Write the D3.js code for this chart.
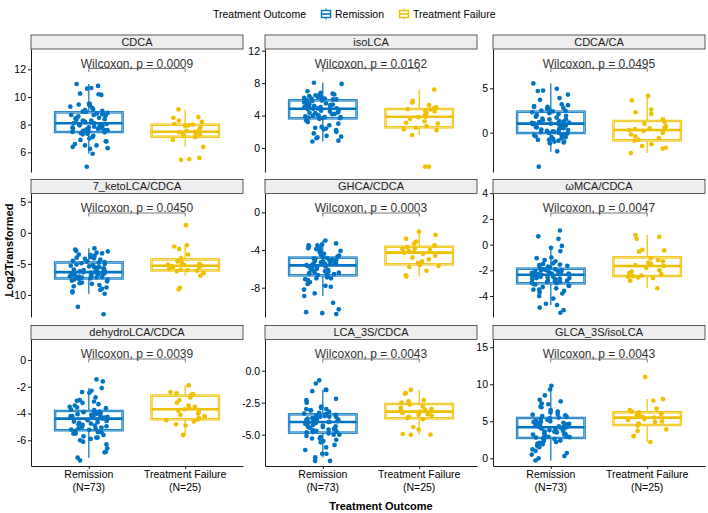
<!DOCTYPE html>
<html><head><meta charset="utf-8">
<script src="https://cdn.jsdelivr.net/npm/d3@7"></script>
<style>
body{margin:0;background:#fff}
svg{display:block}
text{font-family:"Liberation Sans",Arial,Helvetica,sans-serif}
</style>
</head><body>
<svg id="c" width="708" height="513"></svg>
<script>
// ---------------- DATA ----------------
const panelNames = ["CDCA","isoLCA","CDCA/CA","7_ketoLCA/CDCA","GHCA/CDCA","\u03c9MCA/CDCA","dehydroLCA/CDCA","LCA_3S/CDCA","GLCA_3S/isoLCA"];
const groups = ["Remission","Treatment Failure"];
const groupCounts = ["(N=73)","(N=25)"];
const pValues = ["0.0009","0.0162","0.0495","0.0450","0.0003","0.0047","0.0039","0.0043","0.0043"];
const yTicks = [[6,8,10,12],[0,4,8,12],[0,5],[-10,-5,0,5],[-8,-4,0],[-4,-2,0,2,4],[-6,-4,-2,0],[-5,-2.5,0],[0,5,10,15]];
const yTickLabels = [["6","8","10","12"],["0","4","8","12"],["0","5"],["-10","-5","0","5"],["-8","-4","0"],["-4","-2","0","2","4"],["-6","-4","-2","0"],["-5.0","-2.5","0.0"],["0","5","10","15"]];
const yDomains = [[4.58,13.47],[-2.96,12.21],[-4.43,9.43],[-13.54,6.32],[-11.11,2.0],[-5.63,3.98],[-7.92,1.53],[-7.45,2.44],[-1.04,16.05]];

// box statistics
const remQ1  = [7.47,3.66,-0.04,-7.34,-6.69,-3.01,-5.25,-4.84,2.75];
const remMed = [8.10,4.85,1.02,-6.32,-5.63,-2.34,-4.38,-4.01,4.19];
const remQ3  = [8.89,5.88,2.37,-4.77,-4.81,-1.87,-3.81,-3.41,5.45];
const remLo  = [5.9,0.8,-2.14,-9.8,-8.88,-4.7,-7.3,-6.77,-0.3];
const remHi  = [10.94,8.05,5.55,-2.5,-3.0,-0.26,-2.1,-1.5,9.3];
const tfQ1   = [7.13,2.55,-0.86,-6.05,-5.52,-2.44,-4.43,-3.72,4.50];
const tfMed  = [7.49,3.86,0.30,-5.30,-4.28,-1.66,-3.68,-3.20,5.50];
const tfQ3   = [8.0,4.81,1.32,-4.28,-3.65,-0.99,-2.66,-2.60,6.22];
const tfLo   = [6.4,1.6,-2.3,-6.9,-6.8,-3.4,-5.6,-5.02,2.2];
const tfHi   = [9.1,7.2,4.15,-2.0,-2.05,0.75,-1.9,-1.5,8.0];

// individual observations
const remCDCA = [10.94,10.8,10.65,10.6,10.25,10.15,10.2,9.5,9.5,9.4,9.3,9.2,9.1,9.05,9.0,8.95,8.92,9.45,
8.85,8.8,8.8,8.75,8.7,8.7,8.65,8.6,8.5,8.45,8.4,8.35,8.3,8.3,8.25,8.2,8.15,8.12,8.10,
8.05,8.0,7.95,7.9,7.9,7.85,7.8,7.8,7.75,7.7,7.7,7.65,7.6,7.6,7.55,7.55,7.5,7.48,
7.45,7.4,7.3,7.2,7.1,7.0,6.9,6.8,6.8,6.6,6.5,6.4,6.3,6.25,6.5,5.9,4.96,7.35];
const tfCDCA = [9.1,8.55,8.5,8.3,8.2,8.05,8.0,7.95,7.9,7.8,7.6,7.55,7.49,7.45,7.4,7.35,7.3,7.2,7.15,7.1,6.9,6.4,5.6,5.5,5.45];

const remIsoLCA = [8.05,7.9,7.0,6.8,6.6,6.5,6.5,6.4,6.3,6.3,6.2,6.1,6.1,6.0,6.0,5.95,5.9,6.7,
5.85,5.8,5.7,5.6,5.6,5.5,5.4,5.35,5.3,5.2,5.2,5.1,5.05,5.0,4.95,4.9,4.9,4.87,4.85,
4.8,4.7,4.6,4.5,4.4,4.35,4.3,4.2,4.15,4.1,4.0,3.95,3.9,3.8,3.8,3.75,3.7,3.68,
3.6,3.4,3.2,3.0,2.8,2.6,2.5,2.4,2.3,2.2,2.0,1.8,1.5,1.4,1.3,1.2,0.9,0.8];
const tfIsoLCA = [7.2,5.8,5.6,5.3,5.0,4.9,4.8,4.75,4.6,4.5,4.3,4.1,3.86,3.8,3.6,3.3,3.1,3.0,2.7,2.5,2.3,2.2,1.6,-2.3,-2.3];

const remCdcaCa = [5.55,4.95,4.75,4.7,4.3,3.9,3.7,3.2,3.1,3.0,2.9,2.9,2.8,2.7,2.6,2.5,2.45,2.4,
2.3,2.2,2.1,2.0,1.9,1.8,1.7,1.6,1.5,1.5,1.4,1.3,1.25,1.2,1.15,1.1,1.05,1.03,1.02,
0.95,0.9,0.85,0.8,0.7,0.6,0.55,0.5,0.4,0.35,0.3,0.2,0.15,0.1,0.05,0.0,-0.02,0.6,
-0.1,-0.2,-0.3,-0.4,-0.5,-0.6,-0.7,-0.8,-0.9,-1.0,-1.1,-1.2,-0.5,-0.3,-0.8,-2.1,-3.83,-1.0];
const tfCdcaCa = [4.15,3.65,2.6,2.3,2.1,1.5,1.2,1.0,0.7,0.6,0.5,0.4,0.3,0.2,0.0,-0.2,-0.4,-0.6,-0.8,-0.9,-1.3,-1.5,-1.7,-1.8,-2.3];

const remKeto = [-2.5,-2.7,-2.9,-3.0,-3.2,-3.3,-3.5,-3.6,-3.7,-3.8,-3.9,-4.0,-4.1,-4.2,-4.3,-4.5,-4.6,-4.7,
-4.8,-4.9,-5.0,-5.1,-5.2,-5.3,-5.4,-5.5,-5.55,-5.6,-5.7,-5.8,-5.9,-6.0,-6.1,-6.15,-6.2,-6.3,-6.32,
-6.35,-6.4,-6.5,-6.55,-6.6,-6.7,-6.75,-6.8,-6.9,-6.95,-7.0,-7.05,-7.1,-7.15,-7.2,-7.25,-7.3,-7.32,
-7.4,-7.5,-7.6,-7.8,-8.0,-8.2,-8.4,-8.6,-8.8,-9.0,-9.2,-9.4,-9.6,-9.8,-7.7,-8.1,-11.9,-13.1];
const tfKeto = [1.23,-2.0,-2.2,-2.6,-3.5,-4.1,-4.4,-4.6,-4.9,-5.0,-5.1,-5.2,-5.3,-5.4,-5.5,-5.6,-5.8,-5.9,-6.0,-6.1,-6.2,-6.5,-6.9,-8.84,-9.1];

const remGhca = [-3.0,-3.3,-3.4,-3.5,-3.5,-3.6,-3.7,-3.8,-3.9,-4.0,-4.1,-4.2,-4.3,-4.4,-4.5,-4.6,-4.7,-4.75,
-4.85,-4.9,-4.95,-5.0,-5.05,-5.1,-5.15,-5.2,-5.25,-5.3,-5.35,-5.4,-5.45,-5.5,-5.55,-5.6,-5.0,-5.2,-5.63,
-5.7,-5.75,-5.8,-5.9,-5.95,-6.0,-6.05,-6.1,-6.2,-6.25,-6.3,-6.35,-6.4,-6.45,-6.5,-6.55,-6.6,-6.65,
-6.8,-6.9,-7.0,-7.1,-7.2,-7.4,-7.6,-7.8,-7.9,-8.2,-8.6,-8.88,-9.6,-10.3,-10.6,-10.7,-10.8,-7.0];
const tfGhca = [-2.05,-2.4,-2.8,-3.1,-3.3,-3.5,-3.7,-3.8,-3.9,-4.0,-4.1,-4.2,-4.28,-4.4,-4.6,-4.8,-5.0,-5.2,-5.4,-5.6,-5.7,-5.8,-6.2,-6.7,-6.8];

const remOmca = [1.1,0.65,0.45,-0.1,-0.25,-0.5,-1.0,-1.05,-1.2,-1.3,-1.45,-1.5,-1.55,-1.6,-1.65,-1.7,-1.75,-1.8,
-1.9,-1.92,-1.95,-2.0,-2.0,-2.05,-2.1,-2.1,-2.15,-2.2,-2.2,-2.25,-2.25,-2.3,-2.3,-2.32,-2.0,-2.1,-2.34,
-2.4,-2.45,-2.5,-2.55,-2.6,-2.6,-2.65,-2.7,-2.75,-2.8,-2.85,-2.9,-2.9,-2.95,-3.0,-2.5,-2.7,-2.8,
-3.05,-3.1,-3.2,-3.3,-3.4,-3.5,-3.6,-3.7,-3.8,-4.0,-4.2,-4.6,-4.7,-4.9,-5.1,-5.3,-3.2,-3.5];
const tfOmca = [0.75,0.6,0.45,-0.4,-0.45,-0.55,-1.05,-1.2,-1.3,-1.4,-1.5,-1.6,-1.66,-1.8,-2.0,-2.1,-2.2,-2.3,-2.4,-2.45,-2.5,-2.55,-2.6,-2.8,-3.4];

const remDehydro = [-1.45,-1.6,-2.1,-2.3,-2.4,-2.45,-2.8,-3.0,-3.05,-3.1,-3.2,-3.3,-3.4,-3.5,-3.55,-3.6,-3.7,-3.75,
-3.85,-3.9,-3.95,-4.0,-4.0,-4.05,-4.1,-4.1,-4.15,-4.2,-4.2,-4.25,-4.3,-4.3,-4.35,-4.35,-3.9,-4.05,-4.38,
-4.4,-4.45,-4.5,-4.55,-4.6,-4.65,-4.7,-4.75,-4.8,-4.85,-4.9,-4.95,-5.0,-5.05,-5.1,-5.15,-5.2,-5.22,
-5.3,-5.4,-5.5,-5.6,-5.7,-5.8,-5.9,-6.0,-6.1,-6.3,-6.6,-6.85,-6.9,-7.3,-7.5,-5.5,-5.8,-5.4];
const tfDehydro = [-1.9,-2.4,-2.5,-2.55,-2.6,-2.62,-2.8,-3.0,-3.2,-3.4,-3.5,-3.6,-3.68,-3.8,-3.9,-4.0,-4.1,-4.2,-4.35,-4.45,-4.5,-4.6,-4.8,-4.9,-5.6];

const remLca3s = [-0.75,-1.0,-1.5,-1.5,-1.6,-2.2,-2.3,-2.5,-2.8,-2.9,-3.0,-3.0,-3.1,-3.1,-3.2,-3.3,-3.35,-3.4,
-3.45,-3.5,-3.55,-3.6,-3.6,-3.65,-3.7,-3.7,-3.75,-3.8,-3.8,-3.85,-3.9,-3.9,-3.95,-4.0,-3.6,-3.8,-4.01,
-4.05,-4.1,-4.15,-4.2,-4.25,-4.3,-4.35,-4.4,-4.45,-4.5,-4.55,-4.6,-4.65,-4.7,-4.75,-4.8,-4.82,-4.4,
-4.9,-5.0,-5.1,-5.2,-5.3,-5.4,-5.5,-5.6,-5.8,-6.0,-6.2,-6.5,-6.5,-6.77,-7.05,-7.05,-5.0,-5.3];
const tfLca3s = [-1.5,-1.75,-1.8,-2.3,-2.4,-2.5,-2.65,-2.8,-2.9,-3.0,-3.05,-3.1,-3.2,-3.3,-3.4,-3.45,-3.5,-3.6,-3.7,-3.8,-4.4,-4.6,-4.95,-5.0,-5.02];

const remGlca = [9.8,9.3,8.5,7.9,7.7,7.4,7.3,7.0,6.9,6.5,6.3,6.2,6.0,5.9,5.8,5.7,5.6,5.5,
5.4,5.3,5.2,5.1,5.0,4.95,4.9,4.85,4.8,4.7,4.65,4.6,4.5,4.45,4.4,4.3,4.25,4.2,4.19,
4.1,4.0,3.9,3.8,3.7,3.6,3.5,3.4,3.3,3.2,3.1,3.0,2.9,2.8,4.0,3.6,3.2,2.85,
2.7,2.6,2.5,2.4,2.2,2.1,2.0,1.9,1.7,1.5,1.2,1.0,0.7,0.5,0.3,0.0,-0.3,2.3];
const tfGlca = [11.0,8.0,7.8,6.7,6.5,6.3,6.2,6.0,5.9,5.8,5.7,5.6,5.5,5.3,5.2,5.0,4.9,4.7,4.6,4.4,3.9,3.7,3.0,3.0,2.2];

const remPoints = [remCDCA,remIsoLCA,remCdcaCa,remKeto,remGhca,remOmca,remDehydro,remLca3s,remGlca];
const tfPoints  = [tfCDCA,tfIsoLCA,tfCdcaCa,tfKeto,tfGhca,tfOmca,tfDehydro,tfLca3s,tfGlca];

// ---------------- LAYOUT ----------------
const colors = ["#0073C2","#EFC000"];
const colX = [31,265,493];
const panelW = 212;
const stripTop = [35,179.5,325.5];
const stripH = 14;
const plotBottom = [172,317,466];
const FONT_TICK = 10.5;

const svg = d3.select("#c");

// deterministic jitter
function hash(n){ const s = Math.sin(n*12.9898 + 78.233)*43758.5453; return s - Math.floor(s); }

panelNames.forEach((name,i)=>{
  const col = i%3, row = Math.floor(i/3);
  const x0 = colX[col], x1 = x0+panelW;
  const top = stripTop[row]+stripH, bottom = plotBottom[row];
  const x = d3.scalePoint().domain(groups).range([x0,x1]).padding(0.6);
  const y = d3.scaleLinear().domain(yDomains[i]).range([bottom,top]);
  const g = svg.append("g");

  // strip
  g.append("rect").attr("x",x0).attr("y",stripTop[row]).attr("width",panelW).attr("height",stripH)
    .attr("fill","#EEEEEE").attr("stroke","#333").attr("stroke-width",0.8);
  g.append("text").attr("x",(x0+x1)/2).attr("y",stripTop[row]+stripH/2).attr("dy","0.36em")
    .attr("text-anchor","middle").attr("font-size",11).attr("fill","#1a1a1a").text(name);

  // y axis
  const ya = d3.axisLeft(y).tickValues(yTicks[i]).tickFormat((d,k)=>yTickLabels[i][k])
    .tickSize(3).tickSizeOuter(0).tickPadding(2);
  const yg = g.append("g").attr("transform",`translate(${x0},0)`).call(ya);
  yg.selectAll("path,line").attr("stroke","#000").attr("stroke-width",0.9);
  yg.selectAll("text").attr("font-size",FONT_TICK).attr("fill","#000")
    .attr("font-family",'"Liberation Sans",Arial,sans-serif');

  // x axis on bottom row only
  if(row===2){
    const xa = d3.axisBottom(x).tickSize(3).tickSizeOuter(0).tickFormat("");
    const xg = g.append("g").attr("transform",`translate(0,${bottom})`).call(xa);
    xg.selectAll("path,line").attr("stroke","#000").attr("stroke-width",0.9);
    groups.forEach((gr,k)=>{
      const t = g.append("text").attr("text-anchor","middle").attr("font-size",FONT_TICK).attr("fill","#000");
      t.append("tspan").attr("x",x(gr)).attr("y",bottom+11.7).text(gr);
      t.append("tspan").attr("x",x(gr)).attr("y",bottom+24.5).text(groupCounts[k]);
    });
  }

  // boxes
  const bw = 0.7*x.step();
  const stats = [
    [remQ1[i],remMed[i],remQ3[i],remLo[i],remHi[i]],
    [tfQ1[i],tfMed[i],tfQ3[i],tfLo[i],tfHi[i]]
  ];
  groups.forEach((gr,k)=>{
    const [q1,md,q3,lo,hi] = stats[k];
    const cx = x(gr), c = colors[k];
    g.append("line").attr("x1",cx).attr("x2",cx).attr("y1",y(q3)).attr("y2",y(hi)).attr("stroke",c).attr("stroke-width",1.2);
    g.append("line").attr("x1",cx).attr("x2",cx).attr("y1",y(q1)).attr("y2",y(lo)).attr("stroke",c).attr("stroke-width",1.2);
    g.append("rect").attr("x",cx-bw/2).attr("y",y(q3)).attr("width",bw).attr("height",y(q1)-y(q3))
      .attr("fill","#fff").attr("stroke",c).attr("stroke-width",2.4);
    g.append("rect").attr("x",cx-bw/2).attr("y",y(q3)).attr("width",bw).attr("height",y(q1)-y(q3))
      .attr("fill","none").attr("stroke","#fff").attr("stroke-opacity",0.55).attr("stroke-width",0.8);
    g.append("line").attr("x1",cx-bw/2).attr("x2",cx+bw/2).attr("y1",y(md)).attr("y2",y(md)).attr("stroke",c).attr("stroke-width",2.6);
  });

  // jittered points
  [remPoints[i],tfPoints[i]].forEach((vals,k)=>{
    const cx = x(groups[k]), c = colors[k];
    g.selectAll(null).data(vals).enter().append("circle")
      .attr("cx",(d,j)=>cx + (hash(i*1000+k*500+j)-0.5)*2*0.2*x.step())
      .attr("cy",d=>y(d)).attr("r",2.35).attr("fill",c);
  });

  // comparison bracket + label
  const by = top + 19.5;
  const xa1 = x(groups[0]), xa2 = x(groups[1]);
  g.append("path").attr("d",`M${xa1},${by+3.5}V${by}H${xa2}V${by+3.5}`)
    .attr("fill","none").attr("stroke","#555").attr("stroke-width",0.8);
  g.append("text").attr("x",(xa1+xa2)/2).attr("y",by-0.8).attr("text-anchor","middle")
    .attr("font-size",12).attr("fill","#333").text(`Wilcoxon, p = ${pValues[i]}`);
});

// axis titles
svg.append("text").attr("x",381).attr("y",510).attr("text-anchor","middle")
  .attr("font-size",11).attr("font-weight","bold").attr("fill","#000").text("Treatment Outcome");
svg.append("text").attr("transform","translate(13,250) rotate(-90)").attr("text-anchor","middle")
  .attr("font-size",11).attr("font-weight","bold").attr("fill","#000").text("Log2Transformed");

// legend
const leg = svg.append("g");
leg.append("text").attr("x",213).attr("y",18).attr("font-size",FONT_TICK).attr("fill","#000").text("Treatment Outcome");
const keyX = [326,404], textX = [335,413];
groups.forEach((gr,k)=>{
  const c = colors[k], kx = keyX[k], ky = 14;
  leg.append("line").attr("x1",kx).attr("x2",kx).attr("y1",ky-5.5).attr("y2",ky+5.5).attr("stroke",c).attr("stroke-width",1.1);
  leg.append("rect").attr("x",kx-4.5).attr("y",ky-3.5).attr("width",9).attr("height",7)
    .attr("fill","#fff").attr("stroke",c).attr("stroke-width",1.4);
  leg.append("line").attr("x1",kx-4.5).attr("x2",kx+4.5).attr("y1",ky).attr("y2",ky).attr("stroke",c).attr("stroke-width",1.6);
  leg.append("text").attr("x",textX[k]).attr("y",18).attr("font-size",FONT_TICK).attr("fill","#000").text(gr);
});
</script>
</body></html>
